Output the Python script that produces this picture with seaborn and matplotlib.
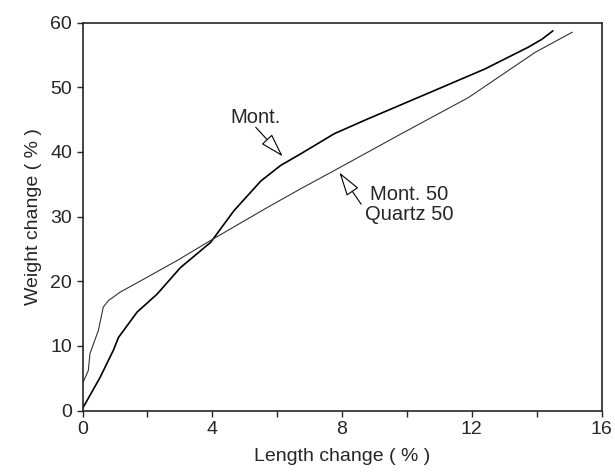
import matplotlib
matplotlib.use("Agg")
import matplotlib.pyplot as plt
import seaborn as sns
import pandas as pd
from matplotlib.ticker import MultipleLocator

# Mont. curve
mont_x = [0.0, 0.54, 0.95, 1.11, 1.68, 2.3, 3.02, 3.95, 4.67, 5.5, 6.11, 6.73,
          7.76, 8.8, 10.86, 12.4, 13.75, 14.16, 14.5]
mont_y = [0.3, 5.1, 9.3, 11.3, 15.2, 18.0, 22.1, 26.0, 30.9, 35.5, 37.9, 39.7,
          42.8, 45.1, 49.5, 52.8, 56.2, 57.4, 58.7]

# Mont. 50 / Quartz 50 curve
mq_x = [0.02, 0.18, 0.23, 0.49, 0.64, 0.8, 1.16, 1.99, 2.92, 3.95, 5.7, 6.73,
        7.76, 9.83, 11.9, 13.96, 15.1]
mq_y = [4.4, 6.2, 8.8, 12.4, 16.0, 17.0, 18.3, 20.6, 23.2, 26.3, 31.4, 34.3,
        37.1, 42.8, 48.4, 55.4, 58.5]

x_ticks = [0, 4, 8, 12, 16]
y_ticks = [0, 10, 20, 30, 40, 50, 60]
x_label = "Length change ( % )"
y_label = "Weight change ( % )"

sns.set_style("ticks")
plt.rcParams["font.family"] = ["Liberation Sans", "DejaVu Sans"]

fig = plt.figure(figsize=(6.15, 4.74), dpi=100)
ax = fig.add_axes([82.5 / 615, 1 - 410.5 / 474, (601.5 - 82.5) / 615, (410.5 - 22.5) / 474])

df1 = pd.DataFrame({"x": mont_x, "y": mont_y})
df2 = pd.DataFrame({"x": mq_x, "y": mq_y})
sns.lineplot(data=df1, x="x", y="y", sort=False, ax=ax, color="black", lw=1.2)
sns.lineplot(data=df2, x="x", y="y", sort=False, ax=ax, color="#333333", lw=0.8)

ax.set_xlim(0, 16)
ax.set_ylim(0, 60)
ax.set_xticks(x_ticks)
ax.set_yticks(y_ticks)
ax.xaxis.set_minor_locator(MultipleLocator(2))
ax.tick_params(axis="both", which="major", labelsize=14, length=4, width=1, direction="out")
ax.tick_params(axis="x", which="minor", length=4, width=1, direction="out")
ax.set_xlabel(x_label, fontsize=14, labelpad=7)
ax.set_ylabel(y_label, fontsize=14, labelpad=6)
for s in ax.spines.values():
    s.set_linewidth(1.2)
    s.set_visible(True)

arrow = dict(arrowstyle="-|>,head_length=1.5,head_width=0.45", fc="white", ec="black",
             lw=0.8, shrinkA=0, shrinkB=0)
ax.annotate("", xy=(6.17, 39.3), xytext=(5.34, 43.8), arrowprops=arrow)
ax.text(5.34, 45.3, "Mont.", fontsize=14.5, ha="center", va="center")
ax.annotate("", xy=(7.92, 36.8), xytext=(8.59, 31.9), arrowprops=arrow)
ax.text(10.06, 31.8, "Mont. 50\nQuartz 50", fontsize=14.5, ha="center", va="center",
        linespacing=1.05)

fig.savefig("out.png", dpi=100)
